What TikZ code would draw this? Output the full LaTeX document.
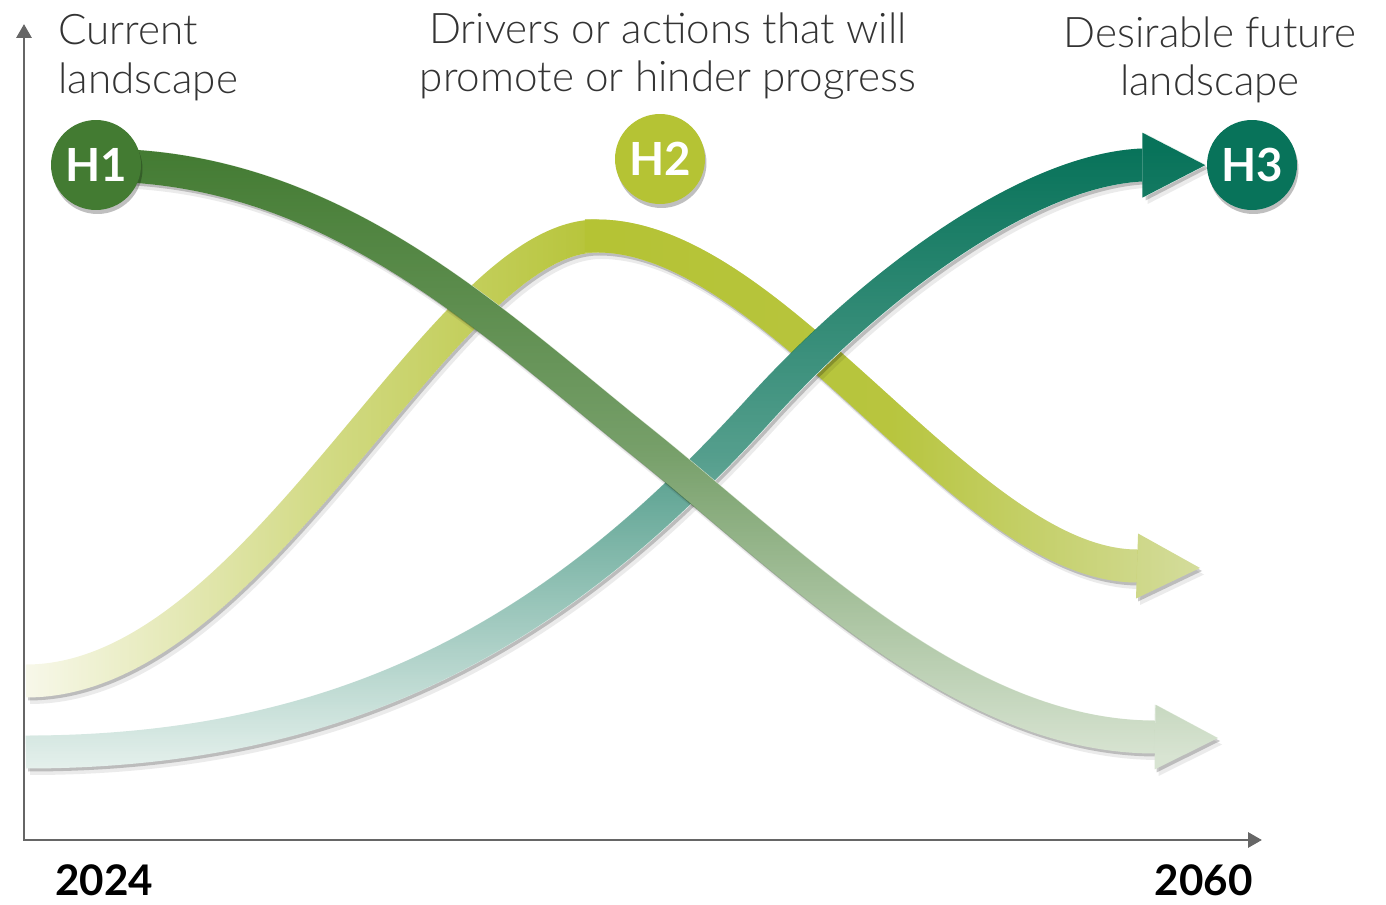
\documentclass[tikz,border=0pt]{standalone}
\usepackage{fontspec}
\setmainfont{Lato}
\newfontfamily\lightfont{Lato Light}
\usetikzlibrary{arrows.meta,fadings,shadows}

\definecolor{hOne}{RGB}{67,123,50}
\definecolor{hOnePale}{RGB}{216,228,210}
\definecolor{hTwo}{RGB}{181,195,52}
\definecolor{hTwoPale}{RGB}{250,250,240}
\definecolor{hTwoEnd}{RGB}{214,222,162}
\definecolor{hThree}{RGB}{8,115,90}
\definecolor{hThreePale}{RGB}{230,241,237}
\definecolor{axisgray}{RGB}{102,102,102}
\definecolor{labelgray}{RGB}{51,51,51}

\tikzfading[name=fade down, top color=transparent!0, bottom color=transparent!100, middle color=transparent!35]
\tikzfading[name=fade in, left color=transparent!100, right color=transparent!0, middle color=transparent!45]
\tikzfading[name=fade out, left color=transparent!0, right color=transparent!100, middle color=transparent!10]

\pgfdeclarelayer{ribbons}
\pgfsetlayers{ribbons,main}

\tikzset{
  hub/.style={circle, minimum size=1.8cm, inner sep=0pt, text=white,
    font=\fontsize{26}{26}\selectfont\bfseries,
    drop shadow={fill=black, opacity=.25, shadow xshift=0.03cm, shadow yshift=-0.08cm}},
  plainribbon/.style={line width=0.66cm},
  ribbon/.style={plainribbon, -{Triangle[width=1.3cm, length=1.26cm, line width=0pt]}},
  ribbonshadow/.style={ribbon, black, opacity=.2, transform canvas={xshift=0.04cm, yshift=-0.06cm}},
  softshadow/.style={ribbon, black, opacity=.08, transform canvas={xshift=0.08cm, yshift=-0.13cm}},
  axis/.style={axisgray, line width=1.7pt, {Triangle[width=0.3cm, length=0.28cm]}-{Triangle[width=0.3cm, length=0.28cm]}},
  heading/.style={text=labelgray, font=\lightfont\fontsize{24}{27.8}\selectfont, inner sep=0pt},
  year/.style={font=\fontsize{24}{24}\selectfont\bfseries, inner sep=0pt}
}

% ribbon centre lines
\newcommand\pathHone{(h1.center) .. controls (330,163) and (490,320) .. (640,440) .. controls (790,560) and (960,737) .. (1155,737) -- (h1end)}
\newcommand\pathHtwoRise{(h2start) .. controls (260,681) and (440,236) .. (h2top)}
\newcommand\pathHtwoFall{(h2top) .. controls (777,236) and (967,566) .. (1137,566) -- (h2end)}
\newcommand\pathHthree{(h3start) .. controls (375,752) and (580,608) .. (760,410) .. controls (880,278) and (1030,172) .. (1140,165) -- (h3.west)}

\begin{document}
\begin{tikzpicture}[x=0.02cm, y=-0.02cm]
	\useasboundingbox (0,0) rectangle (1386,905);
	%\draw[help lines] (0,0) grid[step=100] (1386,905);
	\node[hub, fill=hOne] (h1) at (96,165) {H1};
	\node[hub, fill=hTwo] (h2) at (660,159) {H2};
	\node[hub, fill=hThree] (h3) at (1252,165) {H3};
	% axes
	\coordinate (ytop) at (24,24);
	\coordinate (xend) at (1262,840);
	\draw[axis] (ytop) |- (xend);
	% texts
	\node[heading, anchor=north west, align=left] (now) at (58,14) {Current\\landscape};
	\node[heading, anchor=north, align=center] (drivers) at (668,12) {Drivers or actions that will\\promote or hinder progress};
	\node[heading, anchor=north, align=center] (future) at (1210,16) {Desirable future\\landscape};
	\node[year, anchor=base west] (ystart) at (55,895) {2024};
	\node[year, anchor=base east] (yend) at (1253,895) {2060};
	% ribbons
	\coordinate (h1end) at (1218,738);
	\coordinate (h2start) at (26,681);
	\coordinate (h2top) at (597,236);
	\coordinate (h2end) at (1200,568);
	\coordinate (h3start) at (26,752);
	\begin{pgfonlayer}{ribbons}
		\draw[softshadow] \pathHtwoRise .. controls (777,236) and (967,566) .. (1137,566) -- (h2end);
		\draw[ribbonshadow] \pathHtwoRise .. controls (777,236) and (967,566) .. (1137,566) -- (h2end);
		\draw[plainribbon, hTwoPale] \pathHtwoRise;
		\draw[plainribbon, hTwo, path fading=fade in] \pathHtwoRise;
		\draw[ribbon, hTwoEnd] (585,236) -- \pathHtwoFall;
		\draw[ribbon, hTwo, path fading=fade out] (585,236) -- \pathHtwoFall;
		\draw[softshadow] \pathHthree;
		\draw[ribbonshadow] \pathHthree;
		\draw[ribbon, hThreePale] \pathHthree;
		\draw[ribbon, hThree, path fading=fade down] \pathHthree;
		\draw[softshadow] \pathHone;
		\draw[ribbonshadow] \pathHone;
		\draw[ribbon, hOnePale] \pathHone;
		\draw[ribbon, hOne, path fading=fade down] \pathHone;
	\end{pgfonlayer}
\end{tikzpicture}
\end{document}
